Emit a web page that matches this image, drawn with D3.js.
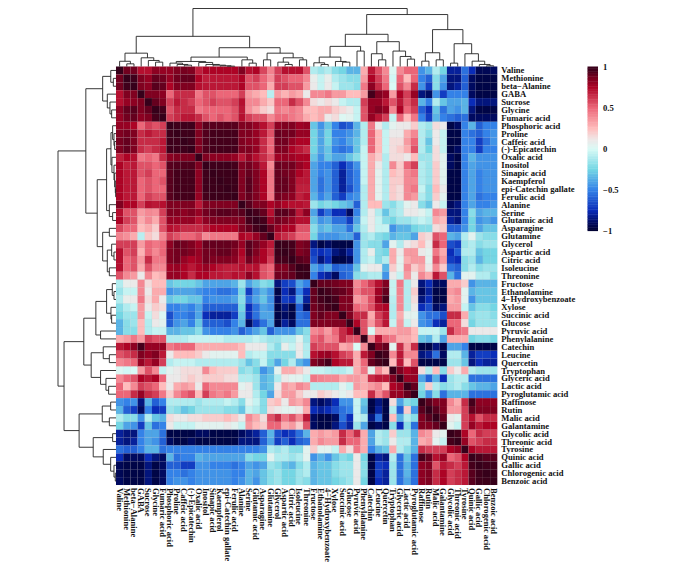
<!DOCTYPE html>
<html><head><meta charset="utf-8">
<script src="https://cdnjs.cloudflare.com/ajax/libs/d3/7.8.5/d3.min.js"></script>
<style>html,body{margin:0;padding:0;background:#fff}svg{display:block}text{font-family:"Liberation Serif",serif;font-weight:bold;fill:#111}</style>
</head><body><svg id="c" width="684" height="571"></svg>
<script>
const labels = ["Valine","Methionine","beta\u2212Alanine","GABA","Sucrose","Glycine","Fumaric acid","Phosphoric acid","Proline","Caffeic acid","(-)-Epicatechin","Oxalic acid","Inositol","Sinapic acid","Kaempferol","epi-Catechin gallate","Ferulic acid","Alanine","Serine","Glutamic acid","Asparagine","Glutamine","Glycerol","Aspartic acid","Citric acid","Isoleucine","Threonine","Fructose","Ethanolamine","4\u2212Hydroxybenzoate","Xylose","Succinic acid","Glucose","Pyruvic acid","Phenylalanine","Catechin","Leucine","Quercetin","Tryptophan","Glyceric acid","Lactic acid","Pyroglutamic acid","Raffinose","Rutin","Malic acid","Galantamine","Glycolic acid","Threonic acid","Tyrosine","Quinic acid","Gallic acid","Chlorogenic acid","Benzoic acid"];
const legendTicks = [1,0.5,0,-0.5,-1];
const colorStops = [-1,-0.9,-0.75,-0.5,-0.25,0,0.12,0.25,0.5,0.75,0.88,0.95,1];
const colorRange = ["#00002e","#000a60","#0a2cb8","#3482e8","#74d6e4","#d9faf6","#efe6e6","#ffbcbc","#ec6678","#ad0325","#72001f","#45001b","#36001a"];

// upper triangle of the correlation matrix, each row starting at its diagonal
const r0=[1,.88,.88,.72,.72,.82,.8,.8,.85,.87,.85,.68,.75,.75,.75,.75,.75,.85,.72,.75,.58,.42,.6,.72,.72,.72,.55,-.1,-.15,-.1,-.2,-.25,-.35,-.35,.3,.7,.55,.4,.02,.4,.5,.5,-.45,-.35,-.1,-.25,-.8,-.8,-.55,-.75,-.92,-.92,-.9];
const r1=[1,.97,.85,.8,.9,.88,.8,.88,.9,.9,.75,.68,.7,.7,.7,.7,.75,.55,.6,.5,.38,.6,.55,.5,.5,.4,.08,-.05,.08,-.1,-.15,-.2,-.2,.35,.75,.6,.45,-.02,.5,.25,.5,-.5,-.6,-.2,-.4,-.85,-.85,-.6,-.9,-.95,-.95,-.95];
const r2=[1,.85,.82,.92,.9,.75,.85,.85,.85,.72,.7,.7,.7,.7,.7,.75,.55,.55,.5,.3,.6,.6,.55,.55,.35,.1,-.05,.1,-.05,-.15,-.15,-.2,.45,.82,.65,.5,0,.55,.4,.65,-.45,-.7,-.2,-.45,-.85,-.8,-.6,-.9,-.95,-.95,-.95];
const r3=[1,.85,.85,.82,.5,.65,.65,.65,.45,.55,.55,.5,.5,.5,.6,.35,.3,.25,-.08,.35,.28,.35,.3,.1,.4,.4,.45,.35,.35,.25,.25,.35,.95,.85,.8,.35,.75,.6,.8,-.85,-.9,-.45,-.7,-.5,-.5,-.5,-.9,-.95,-.95,-.95];
const r4=[1,.9,.85,.6,.7,.65,.6,.5,.55,.6,.55,.55,.6,.72,.4,.4,.3,.22,.5,.5,.65,.55,.4,.15,.1,.15,.1,-.05,-.1,-.1,.6,.8,.8,.7,.55,.7,.55,.65,-.35,-.5,-.1,-.3,-.4,-.4,-.35,-.75,-.85,-.85,-.85];
const r5=[1,.95,.55,.65,.65,.65,.45,.5,.5,.5,.5,.55,.7,.38,.3,.2,.15,.45,.4,.45,.4,.25,.25,.3,.3,.2,.15,.1,-.05,.55,.8,.85,.8,.4,.75,.5,.6,-.6,-.75,-.3,-.55,-.4,-.45,-.35,-.85,-.95,-.95,-.95];
const r6=[1,.6,.65,.7,.7,.65,.55,.5,.55,.5,.55,.72,.6,.55,.55,.4,.5,.5,.45,.4,.3,.25,.3,.1,.15,.02,.05,-.05,.55,.8,.7,.6,-.05,.5,.25,.45,-.5,-.7,-.35,-.5,-.55,-.6,-.55,-.9,-.9,-.9,-.9];
const r7=[1,.97,.97,.97,.82,.92,.92,.92,.92,.92,.85,.85,.8,.72,.6,.82,.85,.85,.78,.8,-.3,-.45,-.3,-.5,-.65,-.6,-.35,-.1,.45,.1,-.1,.05,.1,.1,.2,-.1,-.15,.15,.1,-.95,-.9,-.5,-.35,-.6,-.5,-.5];
const r8=[1,.97,.97,.85,.93,.95,.95,.95,.95,.85,.85,.8,.7,.55,.9,.88,.88,.8,.8,-.25,-.4,-.25,-.5,-.5,-.45,-.35,-.1,.5,.25,-.05,.1,.1,.3,.4,-.1,-.2,.1,-.05,-.95,-.95,-.5,-.55,-.6,-.5,-.45];
const r9=[1,.97,.85,.93,.95,.95,.95,.95,.85,.82,.8,.65,.5,.88,.88,.8,.75,.75,-.25,-.4,-.25,-.45,-.5,-.4,-.3,-.1,.5,.25,-.05,.15,.15,.35,.5,-.1,-.3,.1,-.05,-.95,-.95,-.5,-.5,-.7,-.55,-.45];
const r10=[1,.85,.93,.95,.95,.95,.95,.85,.85,.8,.65,.5,.85,.85,.75,.7,.65,-.25,-.4,-.3,-.5,-.55,-.5,-.3,-.05,.5,.25,-.05,.15,.2,.3,.55,-.1,-.25,.15,-.05,-.95,-.9,-.5,-.5,-.7,-.5,-.5];
const r11=[1,.85,.82,.82,.82,.8,.7,.8,.72,.65,.55,.78,.8,.78,.75,.75,-.3,-.45,-.3,-.4,-.4,-.3,-.2,-.05,.3,.2,-.1,.15,.15,.1,.25,-.15,-.15,.15,.05,-.9,-.95,-.5,-.35,-.45,-.45,-.45];
const r12=[1,.97,.97,.97,.95,.85,.88,.82,.7,.4,.9,.88,.88,.8,.75,-.4,-.5,-.5,-.6,-.75,-.6,-.45,-.05,.3,.1,-.1,.4,.2,.5,.6,-.1,-.15,.2,.05,-.9,-.95,-.5,-.4,-.45,-.45,-.45];
const r13=[1,.98,.98,.98,.85,.9,.85,.75,.45,.9,.88,.85,.75,.7,-.4,-.5,-.45,-.6,-.8,-.6,-.5,-.05,.3,.05,-.1,.25,.2,.4,.45,-.1,-.15,.2,.05,-.95,-.95,-.5,-.4,-.5,-.45,-.45];
const r14=[1,.98,.98,.85,.92,.85,.75,.45,.9,.9,.85,.7,.7,-.4,-.55,-.45,-.6,-.8,-.6,-.5,-.05,.3,.05,-.1,.2,.2,.4,.4,-.1,-.15,.2,.05,-.95,-.95,-.5,-.4,-.5,-.45,-.45];
const r15=[1,.98,.85,.92,.85,.75,.45,.9,.9,.85,.68,.68,-.4,-.55,-.45,-.6,-.8,-.65,-.5,-.1,.3,.05,-.1,.2,.15,.4,.45,-.05,-.2,.25,.1,-.95,-.95,-.5,-.4,-.5,-.45,-.45];
const r16=[1,.85,.9,.85,.75,.45,.88,.85,.82,.68,.72,-.35,-.5,-.4,-.6,-.7,-.5,-.45,-.1,.3,.05,-.1,.2,.15,.4,.35,-.1,-.2,.2,.05,-.95,-.95,-.5,-.4,-.55,-.5,-.5];
const r17=[1,.92,.85,.85,.75,.8,.75,.72,.72,.7,-.15,-.25,-.2,-.25,-.3,-.35,-.6,-.1,.25,.25,-.15,-.2,-.1,.05,.1,-.2,-.3,.1,-.05,-.9,-.85,-.5,-.4,-.5,-.5,-.45];
const r18=[1,.95,.9,.72,.92,.92,.88,.7,.82,-.4,-.7,-.55,-.75,-.75,-.9,-.5,-.1,.1,-.1,-.3,-.15,-.1,.1,.1,.05,-.05,.4,.35,-.85,-.85,-.5,-.2,-.4,-.35,-.35];
const r19=[1,.95,.8,.88,.85,.8,.72,.72,-.3,-.45,-.4,-.55,-.55,-.7,-.4,-.05,.1,-.05,-.2,-.25,-.15,-.15,-.1,-.05,-.1,.3,.25,-.8,-.85,-.5,-.25,-.45,-.4,-.45];
const r20=[1,.9,.8,.75,.75,.55,.55,-.2,-.35,-.3,-.4,-.4,-.55,-.3,-.1,.1,-.05,-.05,-.45,-.35,-.35,-.25,-.2,-.2,.15,.2,-.6,-.6,-.45,-.25,-.4,-.3,-.3];
const r21=[1,.7,.65,.6,.5,.5,-.25,-.45,-.45,-.45,-.4,-.4,-.6,-.15,-.1,-.2,-.25,-.35,-.3,-.3,-.4,.2,.15,.55,.5,-.35,-.4,-.1,.05,-.15,-.2,-.2];
const r22=[1,.98,.95,.85,.88,-.85,-.95,-.9,-.95,-.95,-.95,-.45,-.15,-.2,-.2,-.4,.05,-.1,.1,.15,.25,.1,.65,.5,-.65,-.7,-.15,-.1,-.2,-.15,-.15];
const r23=[1,.95,.85,.88,-.7,-.75,-.7,-.85,-.9,-.8,-.45,-.1,.08,-.2,-.25,.3,.1,.35,.35,.1,.05,.45,.3,-.75,-.6,-.1,-.1,-.3,-.25,-.25];
const r24=[1,.92,.9,-.65,-.85,-.75,-.95,-.95,-.9,-.45,-.1,-.05,-.2,-.1,.3,.05,.3,.35,.35,.05,.55,.35,-.7,-.75,-.2,-.15,-.35,-.25,-.25];
const r25=[1,.98,-.4,-.5,-.4,-.6,-.55,-.55,-.3,.05,.1,.1,-.35,.2,.05,.4,.2,.3,.1,.4,.2,-.55,-.6,-.2,-.1,-.2,-.15,-.15];
const r26=[1,-.5,-.75,-.8,-.9,-.6,-.55,-.2,-.15,-.1,-.1,-.45,.1,-.05,.35,.1,.4,.3,.7,.55,-.35,-.55,.05,.05,-.1,-.1,-.2];
const r27=[1,.9,.9,.88,.85,.85,.4,.5,.6,.72,.85,-.05,.45,-.1,.1,-.85,-.75,-.9,-.9,.3,.3,.2,-.45,-.35,-.35,-.35];
const r28=[1,.95,.92,.9,.85,.45,.55,.55,.78,.9,-.05,.42,-.1,.2,-.9,-.8,-.95,-.95,.35,.4,.05,-.35,-.3,-.3,-.3];
const r29=[1,.95,.85,.85,.35,.4,.55,.8,.95,-.08,.4,-.1,.15,-.85,-.75,-.95,-.95,.3,.35,.05,-.45,-.3,-.3,-.3];
const r30=[1,.85,.85,.5,.45,.55,.72,.75,-.1,.4,-.1,.1,-.75,-.65,-.9,-.85,.35,.35,-.05,-.3,-.2,-.2,-.25];
const r31=[1,.85,.65,.65,.3,.6,.7,-.1,.3,.05,.05,-.45,-.55,-.55,-.65,.65,.65,.3,-.2,-.15,-.15,-.2];
const r32=[1,.75,.55,.35,.55,.7,-.05,.35,-.05,.1,-.45,-.5,-.75,-.8,.5,.5,.15,-.25,-.15,-.15,-.15];
const r33=[1,.55,0,.3,.3,.3,.35,.35,.25,-.05,-.05,-.05,-.15,.65,.5,.45,.1,.1,.1,.1];
const r34=[1,.4,.7,.5,.45,.3,.3,.25,-.3,-.35,-.1,-.4,.3,.3,.3,-.25,-.2,-.2,-.25];
const r35=[1,.85,.9,.05,.65,.35,.65,-.95,-.95,-.85,-.95,-.4,-.4,-.5,-.95,-.95,-.95,-.95];
const r36=[1,.95,.4,.7,.4,.4,-.85,-.8,-.55,-.9,-.1,-.1,-.35,-.8,-.7,-.7,-.75];
const r37=[1,.25,.7,.25,.55,-.95,-.95,-.95,-.95,-.15,-.15,-.3,-.85,-.75,-.8,-.8];
const r38=[1,.85,.75,.8,.15,-.1,.25,-.2,.2,.1,.3,-.1,-.15,-.15,-.15];
const r39=[1,.8,.8,-.4,-.6,-.35,-.75,-.15,-.1,-.1,-.55,-.55,-.55,-.55];
const r40=[1,.9,-.2,.2,-.1,-.2,-.15,-.1,-.2,-.3,-.35,-.35,-.4];
const r41=[1,-.25,-.45,-.2,-.55,-.35,-.35,-.35,-.55,-.55,-.55,-.55];
const r42=[1,.92,.85,.85,.4,.3,.65,.95,.82,.82,.82];
const r43=[1,.92,.85,.35,.35,.6,.9,.85,.85,.85];
const r44=[1,.9,.1,.05,.6,.72,.55,.65,.65];
const r45=[1,.05,-.05,.6,.8,.7,.75,.75];
const r46=[1,.95,.75,.5,.65,.6,.6];
const r47=[1,.8,.55,.6,.65,.65];
const r48=[1,.75,.7,.7,.7];
const r49=[1,.95,.92,.92];
const r50=[1,.97,.97];
const r51=[1,.98];
const r52=[1];
const upper=[r0,r1,r2,r3,r4,r5,r6,r7,r8,r9,r10,r11,r12,r13,r14,r15,r16,r17,r18,r19,r20,r21,r22,r23,r24,r25,r26,r27,r28,r29,r30,r31,r32,r33,r34,r35,r36,r37,r38,r39,r40,r41,r42,r43,r44,r45,r46,r47,r48,r49,r50,r51,r52];

// clustering tree: [merge height, left, right]; a number is a leaf index
const clusterA=[.23,[.09,0,[.046,1,2]],[.15,3,[.104,4,[.075,5,6]]]];
const clusterB=[.087,[.058,7,[.035,8,[.023,9,10]]],[.07,11,[.035,12,[.023,13,[.012,14,[.006,15,16]]]]]];
const clusterC=[.23,[.115,20,21],[.15,[.075,22,[.035,23,24]],[.115,25,26]]];
const clusterPos=[.52,clusterA,[.324,[.162,clusterB,[.115,17,[.058,18,19]]],clusterC]];
const clusterE=[.347,[.162,[.064,27,[.035,28,29]],[.087,30,[.075,31,32]]],[.266,33,34]];
const clusterF=[.428,[.22,35,[.115,36,37]],[.266,38,[.173,39,[.127,40,41]]]];
const clusterG=[.237,[.092,42,43],[.115,44,45]];
const clusterH=[.393,[.058,46,47],[.22,48,[.092,49,[.035,50,[.012,51,52]]]]];
const clusterNeg=[.896,[.555,clusterE,clusterF],[.636,clusterG,clusterH]];
const clusterRoot=[1,clusterPos,clusterNeg];

const n=labels.length;
const X0=116,X1=497.3,Y0=66.5,Y1=485;
const svg=d3.select("#c");
const xBand=d3.scaleBand().domain(d3.range(n)).range([X0,X1]);
const yBand=d3.scaleBand().domain(d3.range(n)).range([Y0,Y1]);
const color=d3.scaleLinear().domain(colorStops).range(colorRange);

const cells=[];
upper.forEach((row,i)=>row.forEach((v,k)=>{
  cells.push({r:i,c:i+k,v});
  if(k>0) cells.push({r:i+k,c:i,v});
}));
svg.append("g").selectAll("rect").data(cells).join("rect")
  .attr("x",d=>xBand(d.c)).attr("y",d=>yBand(d.r))
  .attr("width",xBand.bandwidth()).attr("height",yBand.bandwidth())
  .attr("fill",d=>color(d.v))
  .attr("stroke","#777").attr("stroke-opacity",.08).attr("stroke-width",.5);

// labels
svg.append("g").selectAll("text").data(labels).join("text")
  .attr("x",X1+4).attr("y",(d,i)=>yBand(i)+yBand.bandwidth()/2)
  .attr("dominant-baseline","central").attr("font-size",8.6).text(d=>d);
svg.append("g").selectAll("text").data(labels).join("text")
  .attr("transform",(d,i)=>`translate(${xBand(i)+xBand.bandwidth()/2},${Y1+3}) rotate(90)`)
  .attr("dominant-baseline","central").attr("font-size",8.6).text(d=>d);

// dendrograms
const root=d3.hierarchy(clusterRoot,d=>Array.isArray(d)?d.slice(1):null);
root.eachAfter(nd=>{
  if(nd.children){nd.pos=d3.mean(nd.children,c=>c.pos);nd.h=nd.data[0];}
  else{nd.pos=nd.data+.5;nd.h=0;}
});
const band=(s,p)=>s.range()[0]+p*s.step();
const hTop=d3.scaleLinear().domain([0,1]).range([Y0,8.5]);
const hLeft=d3.scaleLinear().domain([0,1]).range([X0,58]);
const topPath=d3.path(),leftPath=d3.path();
root.descendants().filter(d=>d.children).forEach(nd=>{
  const [a,b]=nd.children;
  const xa=band(xBand,a.pos),xb=band(xBand,b.pos);
  topPath.moveTo(xa,hTop(a.h));topPath.lineTo(xa,hTop(nd.h));topPath.lineTo(xb,hTop(nd.h));topPath.lineTo(xb,hTop(b.h));
  const ya=band(yBand,a.pos),yb=band(yBand,b.pos);
  leftPath.moveTo(hLeft(a.h),ya);leftPath.lineTo(hLeft(nd.h),ya);leftPath.lineTo(hLeft(nd.h),yb);leftPath.lineTo(hLeft(b.h),yb);
});
svg.append("path").attr("d",topPath.toString()).attr("fill","none").attr("stroke","#222").attr("stroke-width",.9);
svg.append("path").attr("d",leftPath.toString()).attr("fill","none").attr("stroke","#222").attr("stroke-width",.9);

// colour legend
const legY=d3.scaleLinear().domain([-1,1]).range([230.7,66.5]);
const steps=d3.range(-1,1,0.02);
svg.append("g").selectAll("rect").data(steps).join("rect")
  .attr("x",587.5).attr("width",10.5)
  .attr("y",d=>legY(d+0.02)).attr("height",d=>legY(d)-legY(d+0.02)+.4)
  .attr("fill",d=>color(d+0.01));
svg.append("g").selectAll("text").data(legendTicks).join("text")
  .attr("x",603).attr("y",d=>legY(d))
  .attr("dominant-baseline","central").attr("font-size",8.6)
  .text(d=>String(d).replace("-","\u2212"));
</script></body></html>
